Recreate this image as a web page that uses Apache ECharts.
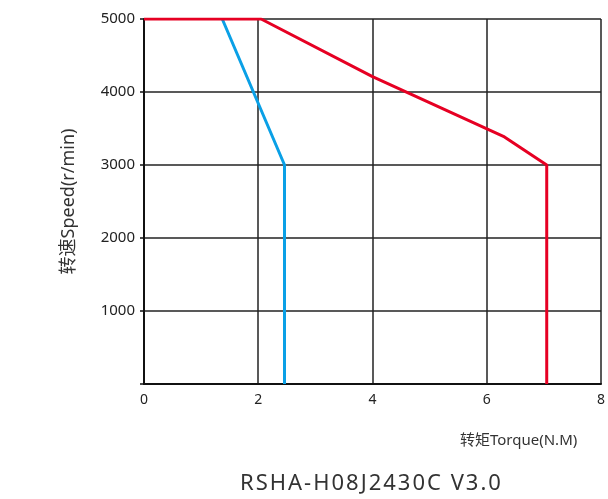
<!DOCTYPE html>
<html>
<head>
<meta charset="utf-8">
<script src="https://cdn.jsdelivr.net/npm/echarts@6/dist/echarts.min.js"></script>
<style>
  html, body { margin: 0; padding: 0; background: #fff; }
  #chart { width: 608px; height: 499px; }
</style>
</head>
<body>
<div id="chart"></div>
<script>
// Torque-speed envelope: peak (red) and rated (blue) curves
const peakTorque = [0, 2.05, 4.0, 6.31, 7.05, 7.05];
const peakSpeed  = [5000, 5000, 4210, 3385, 3000, 0];
const ratedTorque = [1.37, 2.46, 2.46];
const ratedSpeed  = [5000, 3000, 0];
const xTicks = [0, 2, 4, 6, 8];
const yTicks = [1000, 2000, 3000, 4000, 5000];
const modelName = 'RSHA-H08J2430C V3.0';

const zip = (xs, ys) => xs.map((x, i) => [x, ys[i]]);

const chart = echarts.init(document.getElementById('chart'), null, { renderer: 'canvas' });
const fontFamily = '"Noto Sans", "Noto Sans CJK SC", sans-serif';

// spaced-out model caption built from one rich segment per character
const spacedCaption = modelName.split('').map(c => '{c|' + c + '}').join('');

chart.setOption({
  animation: false,
  backgroundColor: '#fff',
  grid: { left: 144, right: 6, top: 19, bottom: 115 },
  xAxis: {
    type: 'value',
    min: xTicks[0],
    max: xTicks[xTicks.length - 1],
    interval: 2,
    axisLine: { lineStyle: { color: '#111', width: 2 } },
    axisTick: { show: false },
    axisLabel: { color: '#222', fontSize: 14, fontFamily, margin: 9 },
    splitLine: { show: true, lineStyle: { color: '#222', width: 1.5 } }
  },
  yAxis: {
    type: 'value',
    min: 0,
    max: yTicks[yTicks.length - 1],
    interval: 1000,
    name: '转速Speed(r/min)',
    nameLocation: 'middle',
    nameGap: 66,
    nameTextStyle: { color: '#333', fontSize: 18, fontFamily },
    axisLine: { lineStyle: { color: '#111', width: 2 } },
    axisTick: { show: true, length: 4, lineStyle: { color: '#111', width: 1.5 } },
    axisLabel: {
      color: '#222', fontSize: 15, fontFamily, margin: 9,
      formatter: v => (v === 0 ? '' : String(v))
    },
    splitLine: { show: true, lineStyle: { color: '#222', width: 1.5 } }
  },
  graphic: [
    {
      type: 'text', left: 460, top: 433,
      style: { text: '转矩Torque(N.M)', fill: '#333', font: '15px ' + fontFamily }
    },
    {
      type: 'text', left: 240, top: 473,
      style: {
        text: spacedCaption,
        rich: { c: { fill: '#333', fontSize: 22, fontFamily, padding: [0, 1, 0, 1] } }
      }
    }
  ],
  series: [
    {
      type: 'line', data: zip(ratedTorque, ratedSpeed), showSymbol: false,
      lineStyle: { color: '#0aa0e6', width: 3 }, z: 3
    },
    {
      type: 'line', data: zip(peakTorque, peakSpeed), showSymbol: false,
      lineStyle: { color: '#e60023', width: 3 }, z: 4
    }
  ]
});
</script>
</body>
</html>
